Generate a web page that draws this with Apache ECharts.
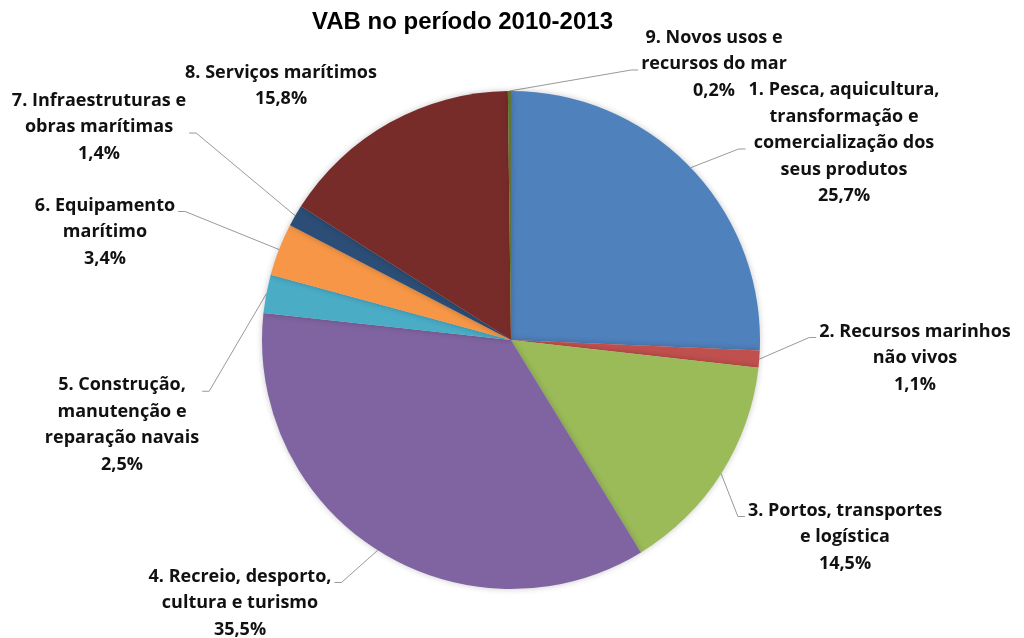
<!DOCTYPE html>
<html>
<head>
<meta charset="utf-8">
<script src="https://cdn.jsdelivr.net/npm/echarts@6/dist/echarts.min.js"></script>
<style>
html,body{margin:0;padding:0;background:#fff;}
#chart{width:1024px;height:638px;}
</style>
</head>
<body>
<div id="chart"></div>
<script>
const titleText = 'VAB no período 2010-2013';
const categories = [
  '1. Pesca, aquicultura,\ntransformação e\ncomercialização dos\nseus produtos',
  '2. Recursos marinhos\nnão vivos',
  '3. Portos, transportes\ne logística',
  '4. Recreio, desporto,\ncultura e turismo',
  '5. Construção,\nmanutenção e\nreparação navais',
  '6. Equipamento\nmarítimo',
  '7. Infraestruturas e\nobras marítimas',
  '8. Serviços marítimos',
  '9. Novos usos e\nrecursos do mar'
];
const values = [25.7, 1.1, 14.5, 35.5, 2.5, 3.4, 1.4, 15.8, 0.2];
const colors = ['#4F81BD', '#C0504D', '#9BBB59', '#8064A2', '#4BACC6', '#F79646', '#2C4D75', '#772C2A', '#5F7530'];

// layout only
const CX = 511, CY = 340, R = 249, LH = 26.5;
const labelCenters = [
  [844, 143], [915, 358], [845, 537], [240, 603], [122, 425],
  [105, 232], [99, 127], [281, 86], [714, 64]
];
// which text line the leader attaches to, and on which side of the label
const attachLine = [2, 0, 0, 0, 0, 0, 1, null, 1];
const attachSide = ['left', 'left', 'left', 'right', 'right', 'right', 'right', null, 'left'];

const total = values.reduce((a, b) => a + b, 0);
const midAngles = [];
let cum = 0;
values.forEach(v => { midAngles.push((cum + v / 2) / total * Math.PI * 2); cum += v; });

const chart = echarts.init(document.getElementById('chart'));
chart.setOption({
  animation: false,
  backgroundColor: '#ffffff',
  title: {
    text: titleText,
    left: 307,
    top: 5,
    textStyle: { fontFamily: 'Liberation Sans', fontWeight: 'bold', fontSize: 24, color: '#000' }
  },
  series: [{
    type: 'pie',
    center: [CX, CY],
    radius: R,
    startAngle: 90,
    clockwise: true,
    avoidLabelOverlap: false,
    itemStyle: { shadowBlur: 6, shadowColor: 'rgba(0,0,0,0.22)' },
    label: {
      show: true,
      position: 'outside',
      fontFamily: 'Open Sans',
      fontWeight: 'bold',
      fontSize: 18,
      lineHeight: LH,
      color: '#111',
      align: 'center',
      formatter: p => p.name + '\n' + p.value.toFixed(1).replace('.', ',') + '%'
    },
    labelLine: { show: true, lineStyle: { color: '#9a9a9a', width: 1 } },
    labelLayout: p => {
      const i = p.dataIndex;
      const [lx, ly] = labelCenters[i];
      const out = { x: lx, y: ly, align: 'center', verticalAlign: 'middle' };
      if (attachLine[i] != null) {
        const w = p.labelRect.width, h = p.labelRect.height;
        const ay = ly - h / 2 + (attachLine[i] + 0.5) * LH + 6;
        const dir = attachSide[i] === 'left' ? -1 : 1;
        const ax = lx + dir * (w / 2 + 3);
        const bx = ax + dir * 7;
        const a = midAngles[i];
        const sx = CX + R * Math.sin(a), sy = CY - R * Math.cos(a);
        out.labelLinePoints = [[sx, sy], [bx, ay], [ax, ay]];
      }
      return out;
    },
    data: categories.map((c, i) => ({
      name: c,
      value: values[i],
      itemStyle: { color: colors[i] },
      labelLine: { show: i !== 7 }
    }))
  }]
});
</script>
</body>
</html>
